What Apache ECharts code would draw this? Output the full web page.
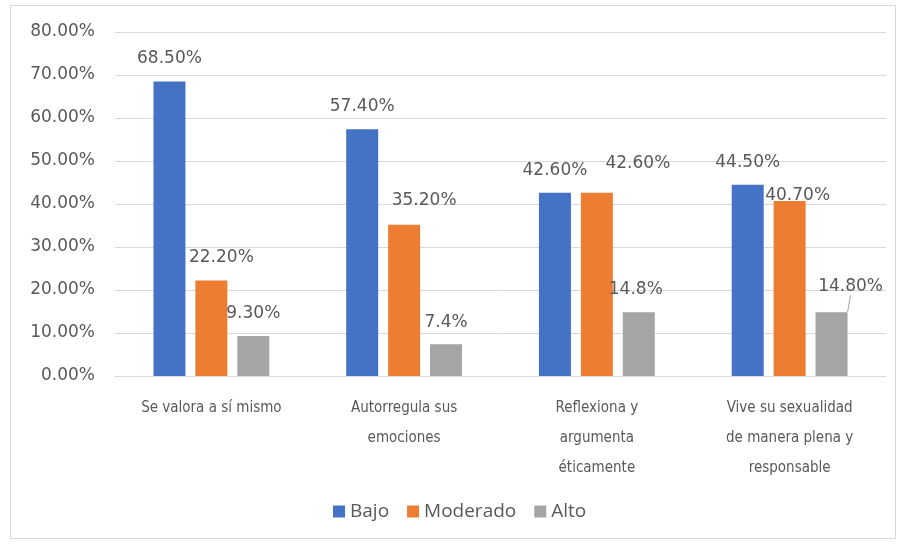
<!DOCTYPE html>
<html>
<head>
<meta charset="utf-8">
<script src="https://cdn.jsdelivr.net/npm/echarts@6/dist/echarts.min.js"></script>
<style>
  html, body { margin: 0; padding: 0; background: #fff; }
  #chart { width: 902px; height: 544px; }
</style>
</head>
<body>
<div id="chart"></div>
<script>
// categories and values
var categories = [
    'Se valora a sí mismo',
    'Autorregula sus\nemociones',
    'Reflexiona y\nargumenta\néticamente',
    'Vive su sexualidad\nde manera plena y\nresponsable'
];
var bajo = [68.5, 57.4, 42.6, 44.5];
var moderado = [22.2, 35.2, 42.6, 40.7];
var alto = [9.3, 7.4, 14.8, 14.8];

// label texts as printed (some have one decimal only)
var bajoLabels = ['68.50%', '57.40%', '42.60%', '44.50%'];
var moderadoLabels = ['22.20%', '35.20%', '42.60%', '40.70%'];
var altoLabels = ['9.30%', '7.4%', '14.8%', '14.80%'];

var yTicks = [0, 10, 20, 30, 40, 50, 60, 70, 80];

// label nudges, the way Excel left them
var moderadoShift = [[10, 0], [20, -2], [41, -7], [8, 17]];
var altoShift = [[0, 0], [0, 1], [-3, 0], [19, -3]];

var textColor = '#595959';
var numFont = '"DejaVu Sans", "Open Sans", sans-serif';

var chart = echarts.init(document.getElementById('chart'));

function buildData(values, labels, leaderIdx) {
    return values.map(function(v, i) {
        var item = { value: v, labelText: labels[i] };
        if (i === leaderIdx) {
            item.labelLine = { show: true };
        }
        return item;
    });
}

function makeSeries(name, color, values, labels, shift, leaderIdx) {
    return {
        name: name,
        type: 'bar',
        barWidth: 32,
        barGap: '31%',
        itemStyle: { color: color },
        data: buildData(values, labels, leaderIdx),
        label: {
            show: true,
            position: 'top',
            distance: 14,
            color: textColor,
            fontFamily: numFont,
            fontSize: 17,
            formatter: function(p) { return p.data.labelText; }
        },
        labelLine: {
            show: false,
            lineStyle: { color: '#a6a6a6', width: 1 }
        },
        labelLayout: function(p) {
            if (!shift) return {};
            var s = shift[p.dataIndex];
            return { dx: s[0], dy: s[1] };
        }
    };
}

var option = {
    backgroundColor: '#fff',
    animation: false,
    graphic: [{
        type: 'rect',
        shape: { x: 10.5, y: 5.5, width: 885, height: 533 },
        style: { fill: 'none', stroke: '#d9d9d9', lineWidth: 1 },
        silent: true
    }],
    grid: {
        left: 115,
        right: 16,
        top: 32,
        bottom: 168
    },
    legend: {
        bottom: 18,
        left: 328,
        itemWidth: 12,
        itemHeight: 12,
        itemGap: 18,
        icon: 'rect',
        textStyle: {
            color: textColor,
            fontFamily: '"Open Sans", sans-serif',
            fontSize: 19
        },
        data: ['Bajo', 'Moderado', 'Alto']
    },
    xAxis: {
        type: 'category',
        data: categories,
        axisLine: { lineStyle: { color: '#d9d9d9' } },
        axisTick: { show: false },
        axisLabel: {
            interval: 0,
            margin: 17,
            color: textColor,
            fontFamily: '"Liberation Sans Narrow", "DejaVu Sans Condensed", sans-serif',
            fontSize: 15,
            lineHeight: 30
        }
    },
    yAxis: {
        type: 'value',
        min: yTicks[0],
        max: yTicks[yTicks.length - 1],
        interval: 10,
        axisLine: { show: false },
        axisTick: { show: false },
        splitLine: { lineStyle: { color: '#d9d9d9' } },
        axisLabel: {
            margin: 20,
            color: textColor,
            fontFamily: numFont,
            fontSize: 17,
            formatter: function(v) { return v.toFixed(2) + '%'; }
        }
    },
    series: [
        makeSeries('Bajo', '#4472c4', bajo, bajoLabels, null, -1),
        makeSeries('Moderado', '#ed7d31', moderado, moderadoLabels, moderadoShift, -1),
        makeSeries('Alto', '#a5a5a5', alto, altoLabels, altoShift, 3)
    ]
};

chart.setOption(option);
</script>
</body>
</html>
